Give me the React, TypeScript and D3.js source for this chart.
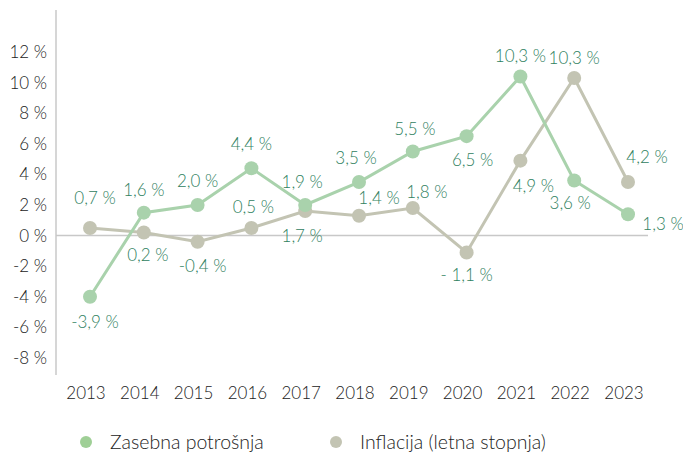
import React from "react";
import * as d3 from "d3";

const years = ["2013","2014","2015","2016","2017","2018","2019","2020","2021","2022","2023"];
const consumption = [-4.0, 1.5, 2.0, 4.4, 2.0, 3.5, 5.5, 6.5, 10.4, 3.6, 1.4];
const inflation = [0.5, 0.2, -0.4, 0.5, 1.6, 1.3, 1.8, -1.1, 4.9, 10.3, 3.5];
const consumptionLabels = ["-3,9 %","1,6 %","2,0 %","4,4 %","1,9 %","3,5 %","5,5 %","6,5 %","10,3 %","3,6 %","1,3 %"];
const inflationLabels = ["0,7 %","0,2 %","-0,4 %","0,5 %","1,7 %","1,4 %","1,8 %","- 1,1 %","4,9 %","10,3 %","4,2 %"];
// label offsets (dx, dy) relative to point
const consOff = [[5,25],[0,-23],[0,-24],[0,-24],[-3,-23],[-3,-24],[2,-22],[6,24],[0,-20],[-4,23],[35,10]];
const inflOff = [[5,-30],[4,23],[5,24],[2,-21],[-3,25],[20,-18],[14,-16],[0,23],[13,25],[0,-20],[19,-25]];
const yTicks = [12, 10, 8, 6, 4, 2, 0, -2, -4, -6, -8];
const legendItems = ["Zasebna potrošnja", "Inflacija (letna stopnja)"];

const GREEN = "#a9d2ac";
const GREY = "#c3c4b3";
const LABEL = "#2f8160";
const FONT = "Lato, 'Open Sans', sans-serif";
const FS = 17;

export default function App() {
  const x = d3.scalePoint<string>().domain(years).range([90, 628]);
  const y = d3.scaleLinear().domain([-8, 12]).range([358, 52]);
  const line = d3.line<number>().x((_, i) => x(years[i])!).y((d) => y(d));
  const fmt = (v: number) => `${v} %`;
  return (
    <svg width={683} height={452} style={{ position: "absolute", left: 0, top: 0, fontFamily: FONT }}>
      <line x1={56} x2={56} y1={10} y2={375} stroke="#c8c8c8" strokeWidth={1.5} />
      <line x1={56} x2={648} y1={y(0)} y2={y(0)} stroke="#c8c8c8" strokeWidth={1.5} />
      {yTicks.map((t) => (
        <text key={t} x={47} y={y(t)} dy="0.35em" textAnchor="end" fontSize={FS} fontWeight={300} fill="#222">
          {fmt(t)}
        </text>
      ))}
      {years.map((yr) => (
        <text key={yr} x={x(yr)! - 4} y={393} dy="0.35em" textAnchor="middle" fontSize={FS} fontWeight={300} fill="#222">
          {yr}
        </text>
      ))}
      <path d={line(inflation)!} fill="none" stroke={GREY} strokeWidth={3} />
      <path d={line(consumption)!} fill="none" stroke={GREEN} strokeWidth={3} />
      {inflation.map((v, i) => (
        <circle key={"i" + i} cx={x(years[i])} cy={y(v)} r={7} fill={GREY} />
      ))}
      {consumption.map((v, i) => (
        <circle key={"c" + i} cx={x(years[i])} cy={y(v)} r={7} fill={GREEN} />
      ))}
      {consumptionLabels.map((l, i) => (
        <text key={"cl" + i} x={x(years[i])! + consOff[i][0]} y={y(consumption[i]) + consOff[i][1]} dy="0.35em"
          textAnchor="middle" fontSize={FS} fontWeight={300} fill={LABEL}>{l}</text>
      ))}
      {inflationLabels.map((l, i) => (
        <text key={"il" + i} x={x(years[i])! + inflOff[i][0]} y={y(inflation[i]) + inflOff[i][1]} dy="0.35em"
          textAnchor="middle" fontSize={FS} fontWeight={300} fill={LABEL}>{l}</text>
      ))}
      {legendItems.map((l, i) => (
        <g key={l} transform={`translate(${86 + i * 250},442)`}>
          <circle r={6} fill={i === 0 ? "#9fcf96" : GREY} />
          <text x={24} dy="0.35em" fontSize={19.5} fontWeight={300} fill="#222">{l}</text>
        </g>
      ))}
    </svg>
  );
}
